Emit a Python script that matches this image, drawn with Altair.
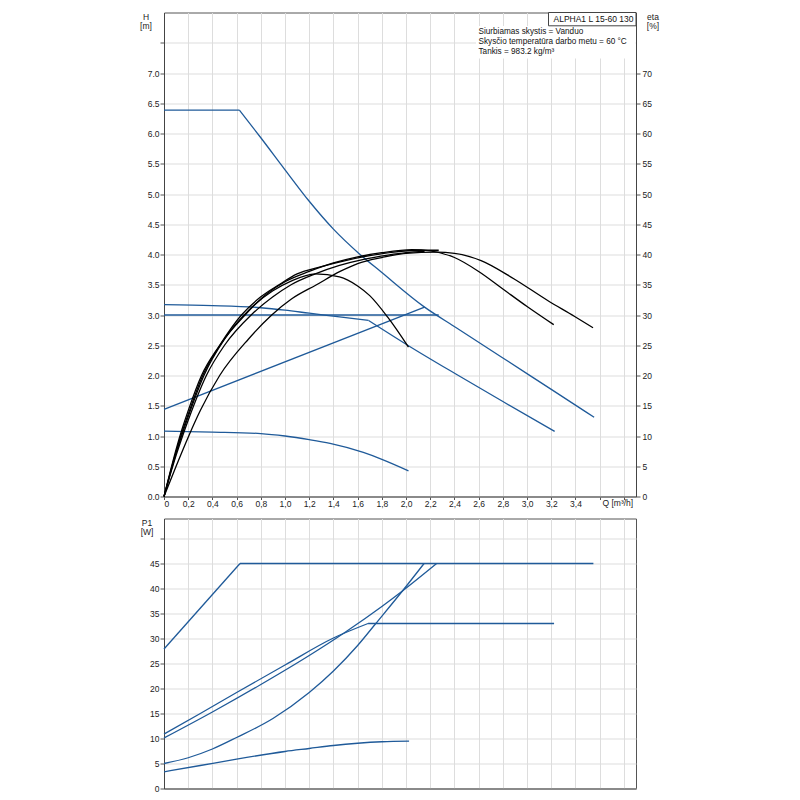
import altair as alt
import pandas as pd

# ---------------- data ----------------
# Pump curves H [m] vs Q [m3/h]
H_MAX_Q = [0, 0.623, 0.8, 1.0, 1.2, 1.4, 1.615, 1.795, 2.153, 2.415, 2.8, 3.2, 3.554]
H_MAX_H = [6.385, 6.385, 5.93, 5.40, 4.88, 4.42, 4.01, 3.71, 3.13, 2.79, 2.29, 1.77, 1.31]
H_PP_Q = [0, 0.4, 0.8, 1.0, 1.2, 1.45, 1.69, 2.03, 2.415, 2.8, 3.228]
H_PP_H = [3.17, 3.155, 3.12, 3.08, 3.03, 2.97, 2.91, 2.48, 2.02, 1.57, 1.076]
H_CP_Q = [0, 2.27]
H_CP_H = [3.0, 3.0]
H_RISE_Q = [0, 2.153]
H_RISE_H = [1.44, 3.13]
H_MIN_Q = [0, 0.4, 0.8, 1.0, 1.2, 1.372, 1.647, 1.8, 2.02]
H_MIN_H = [1.08, 1.065, 1.04, 1.0, 0.94, 0.877, 0.728, 0.615, 0.425]

# Efficiency curves eta [%] vs Q
ETA_A_Q = [0, 0.05, 0.1, 0.15, 0.2, 0.33, 0.5, 0.7, 0.9, 1.05, 1.25, 1.45, 1.6, 1.7, 1.85, 2.02]
ETA_A = [0, 3.7, 7.2, 10.3, 13.2, 20.0, 26.0, 30.8, 34.0, 35.6, 36.8, 36.3, 34.8, 33.2, 29.6, 24.7]
ETA_B_Q = [0, 0.05, 0.1, 0.15, 0.2, 0.32, 0.48, 0.67, 0.85, 1.0, 1.2, 1.4, 1.6, 1.8, 2.05, 2.2, 2.4, 2.6, 2.8, 3.0, 3.22]
ETA_B = [0, 3.8, 7.4, 10.7, 13.6, 20.0, 25.5, 30.0, 33.5, 35.5, 37.2, 38.6, 39.6, 40.3, 40.8, 40.6, 39.5, 37.2, 34.3, 31.4, 28.4]
ETA_C_Q = [0, 0.1, 0.2, 0.3, 0.46, 0.697, 0.89, 1.05, 1.26, 1.455, 1.6, 1.8, 2.0, 2.25, 2.4, 2.62, 2.89, 3.17, 3.39, 3.545]
ETA_C = [0, 5.0, 9.8, 14.2, 20.0, 26.0, 30.0, 32.6, 35.0, 37.2, 38.5, 39.5, 40.2, 40.4, 40.2, 39.0, 36.0, 32.4, 29.8, 27.9]
ETA_D_Q = [0, 0.05, 0.1, 0.15, 0.2, 0.31, 0.46, 0.64, 0.8, 0.95, 1.1, 1.3, 1.5, 1.7, 1.9, 2.1, 2.27]
ETA_D = [0, 4.0, 7.8, 11.2, 14.2, 20.0, 25.0, 30.0, 33.0, 35.0, 36.8, 38.0, 39.0, 39.8, 40.4, 40.7, 40.7]
ETA_E_Q = [0, 0.05, 0.1, 0.15, 0.2, 0.35, 0.5, 0.72, 0.9, 1.05, 1.25, 1.45, 1.65, 1.85, 2.0, 2.153]
ETA_E = [0, 3.5, 6.8, 9.8, 12.6, 20.0, 25.0, 30.0, 33.0, 35.0, 36.8, 38.2, 39.2, 39.9, 40.3, 40.5]

# Power curves P1 [W] vs Q
P_MAX_Q = [0, 0.628, 3.548]
P_MAX = [27.9, 45, 45]
P_PP_Q = [0, 0.3, 0.6, 1.0, 1.4, 1.686, 3.223]
P_PP = [10.9, 15.0, 19.2, 24.7, 30.1, 33.0, 33.0]
P_CP_Q = [0, 0.4, 0.8, 1.2, 1.5, 1.8, 1.97, 2.253]
P_CP = [10.1, 15.3, 20.8, 26.6, 31.3, 36.4, 39.5, 45]
P_RISE_Q = [0, 0.2, 0.4, 0.6, 0.9, 1.2, 1.4, 1.6, 1.75, 1.97, 2.149]
P_RISE = [5.0, 6.15, 7.9, 10.2, 14.0, 19.2, 23.5, 28.6, 33.0, 39.5, 45]
P_MIN_Q = [0, 0.3, 0.6, 1.0, 1.2, 1.4, 1.6, 1.8, 2.025]
P_MIN = [3.34, 4.6, 5.88, 7.4, 8.0, 8.6, 9.05, 9.35, 9.47]

X_TICKS = [round(i * 0.2, 1) for i in range(20)]
H_TICKS = [i * 0.5 for i in range(16)]
ETA_TICKS = list(range(0, 75, 5))
P_TICKS = list(range(0, 55, 5))

MODEL_LABEL = "ALPHA1 L 15-60 130"
INFO_LINES = [
    "Siurbiamas skystis = Vanduo",
    "Skysčio temperatūra darbo metu = 60 °C",
    "Tankis = 983.2 kg/m³",
]


def long_frame(pairs, valname):
    rows = []
    for name, qs, vs in pairs:
        for i, (q, v) in enumerate(zip(qs, vs)):
            rows.append({"s": name, "i": i, "Q": q, valname: v})
    return pd.DataFrame(rows)


# kinked curves are split at their corner so the smooth interpolation keeps the corner sharp
h_df = long_frame([
    ("max_flat", H_MAX_Q[:2], H_MAX_H[:2]), ("max_curve", H_MAX_Q[1:], H_MAX_H[1:]),
    ("pp_curve", H_PP_Q[:7], H_PP_H[:7]), ("pp_line", H_PP_Q[6:], H_PP_H[6:]),
    ("cp", H_CP_Q, H_CP_H), ("rise", H_RISE_Q, H_RISE_H), ("min", H_MIN_Q, H_MIN_H)], "H")
eta_df = long_frame([
    ("a", ETA_A_Q, ETA_A), ("b", ETA_B_Q, ETA_B), ("c", ETA_C_Q, ETA_C),
    ("d", ETA_D_Q, ETA_D), ("e", ETA_E_Q, ETA_E)], "eta")
p_df = long_frame([
    ("max_rise", P_MAX_Q[:2], P_MAX[:2]), ("max_flat", P_MAX_Q[1:], P_MAX[1:]),
    ("pp_curve", P_PP_Q[:6], P_PP[:6]), ("pp_flat", P_PP_Q[5:], P_PP[5:]),
    ("cp", P_CP_Q, P_CP), ("rise", P_RISE_Q, P_RISE), ("min", P_MIN_Q, P_MIN)], "P")

BLUE = "#1f5a99"
FONT = "Liberation Sans"
W = 472
H_TOP = 484
H_BOT = 270

x_scale = alt.Scale(domain=[0, 3.9], nice=False, zero=False)

x_top = alt.X(
    "Q:Q", scale=x_scale,
    axis=alt.Axis(
        values=X_TICKS, labelOverlap=False, tickCount=20,
        labelExpr="datum.value == 0 ? '0' : (datum.value > 3.5 ? '' : replace(format(datum.value, '.1f'), '.', ','))",
        title="Q [m³/h]", titleX=438, titleY=6, titleAlign="left", titleBaseline="middle",
        titleFontWeight="normal", titleFontSize=8.5, titleColor="#222",
        grid=True, tickSize=3, labelPadding=0, labelFontSize=8.5, labelColor="#222",
        domainColor="#777", domainWidth=1.5, tickColor="#555",
    ),
)

y_h = alt.Y(
    "H:Q", scale=alt.Scale(domain=[0, 8], nice=False, zero=True),
    axis=alt.Axis(
        values=H_TICKS, labelOverlap=False,
        labelExpr="datum.value > 7.01 ? '' : format(datum.value, '.1f')",
        title=["H", "[m]"], titleAngle=0, titleX=-18.5, titleY=3.5, titleAlign="center",
        titleBaseline="middle", titleFontWeight="normal", titleFontSize=8.5, titleLineHeight=9.3,
        titleColor="#222",
        grid=True, tickSize=4, labelPadding=1, labelFontSize=8.5, labelColor="#222",
        domainColor="#444", tickColor="#555",
    ),
)

y_eta = alt.Y(
    "eta:Q", scale=alt.Scale(domain=[0, 80], nice=False, zero=True),
    axis=alt.Axis(
        orient="right", values=ETA_TICKS, labelOverlap=False,
        title=["eta", "[%]"], titleAngle=0, titleX=16.5, titleY=3.5, titleAlign="center",
        titleBaseline="middle", titleFontWeight="normal", titleFontSize=8.5, titleLineHeight=9.3,
        titleColor="#222",
        grid=False, tickSize=4, labelPadding=2, labelFontSize=8.5, labelColor="#222",
        domainColor="#444", tickColor="#555",
    ),
)

blue_top = alt.Chart(h_df).mark_line(color=BLUE, strokeWidth=1.3, interpolate="monotone").encode(
    x=x_top, y=y_h, detail="s:N", order="i:Q")

black_top = alt.Chart(eta_df).mark_line(color="#000000", strokeWidth=1.3, interpolate="monotone").encode(
    x=x_top, y=y_eta, detail="s:N", order="i:Q")

info_box = alt.Chart(pd.DataFrame({"k": [0]})).mark_rect(
    fill="white", stroke=None).encode(
    x=alt.value(312), x2=alt.value(W - 0.5), y=alt.value(13.5), y2=alt.value(46))

model_box = alt.Chart(pd.DataFrame({"t": [MODEL_LABEL]})).mark_rect(
    fill="white", stroke="#444", strokeWidth=1).encode(
    x=alt.value(384.5), x2=alt.value(W), y=alt.value(0), y2=alt.value(13.3))

model_text = alt.Chart(pd.DataFrame({"t": [MODEL_LABEL]})).mark_text(
    align="left", baseline="middle", fontSize=8.5, font=FONT, color="#111").encode(
    x=alt.value(389.5), y=alt.value(6.8), text="t:N")

info_layers = []
for k, line in enumerate(INFO_LINES):
    info_layers.append(
        alt.Chart(pd.DataFrame({"t": [line]})).mark_text(
            align="left", baseline="middle", fontSize=8.2, font=FONT, color="#111").encode(
            x=alt.value(314.5), y=alt.value(19 + k * 10.3), text="t:N"))

top = alt.layer(blue_top, black_top, info_box, model_box, model_text, *info_layers).resolve_scale(
    y="independent").properties(width=W, height=H_TOP)

x_bot = alt.X(
    "Q:Q", scale=x_scale,
    axis=alt.Axis(values=X_TICKS, labels=False, ticks=False, title=None, grid=True,
                  tickCount=20, domainColor="#777", domainWidth=1.5))

y_p = alt.Y(
    "P:Q", scale=alt.Scale(domain=[0, 54], nice=False, zero=True),
    axis=alt.Axis(
        values=P_TICKS, labelOverlap=False,
        labelExpr="datum.value >= 50 ? '' : format(datum.value, 'd')",
        title=["P1", "[W]"], titleAngle=0, titleX=-17.5, titleY=4.0, titleAlign="center",
        titleBaseline="middle", titleFontWeight="normal", titleFontSize=8.5, titleLineHeight=9.3,
        titleColor="#222",
        grid=True, tickSize=4, labelPadding=1, labelFontSize=8.5, labelColor="#222",
        domainColor="#444", tickColor="#555",
    ),
)

bottom = alt.Chart(p_df).mark_line(color=BLUE, strokeWidth=1.3, interpolate="monotone").encode(
    x=x_bot, y=y_p, detail="s:N", order="i:Q").properties(width=W, height=H_BOT)

chart = alt.vconcat(top, bottom, spacing=22, bounds="flush").properties(
    padding={"left": 131, "top": 3.5, "right": 5, "bottom": 5}
).configure(font=FONT).configure_view(stroke="#555", strokeWidth=1).configure_axis(
    gridColor="#dddddd", gridWidth=1)

chart.save("out.html", embed_options={"renderer": "svg", "actions": False})
